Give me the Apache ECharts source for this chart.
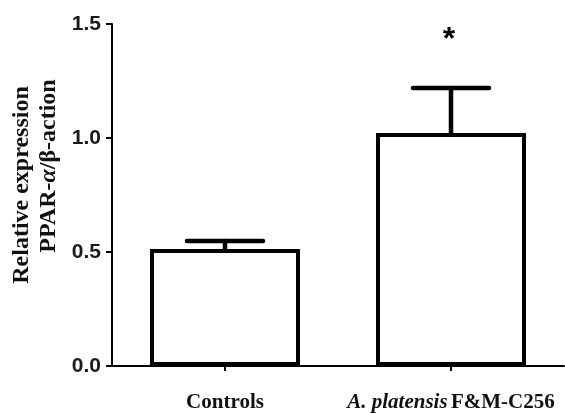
<!DOCTYPE html>
<html>
<head>
<meta charset="utf-8">
<script src="https://cdn.jsdelivr.net/npm/echarts@6/dist/echarts.min.js"></script>
<style>
  html, body { margin: 0; padding: 0; background: #fff; }
  #chart { width: 565px; height: 413px; }
</style>
</head>
<body>
<div id="chart"></div>
<script>
// Groups on the x axis
const groups = ['Controls', 'A. platensis F&M-C256'];
// Mean relative expression and upper end of the error bar
const meanValues = [0.513, 1.022];
const upperValues = [0.548, 1.219];
// Significance marks above each group
const significance = ['', '*'];
// Y axis range and step
const yMin = 0;
const yMax = 1.5;
const yStep = 0.5;

const chart = echarts.init(document.getElementById('chart'), null, { renderer: 'canvas' });

const errorData = groups.map((g, i) => [i, meanValues[i], upperValues[i]]);

const option = {
  animation: false,
  backgroundColor: '#ffffff',
  grid: { left: 112, right: 1, top: 24, bottom: 47 },
  xAxis: {
    type: 'category',
    data: groups,
    axisLine: { show: true, lineStyle: { color: '#000', width: 2 } },
    axisTick: { show: true, alignWithLabel: true, length: 5, lineStyle: { color: '#000', width: 2 } },
    axisLabel: {
      margin: 26,
      formatter: function (v) {
        if (v.indexOf('A. platensis') === 0) {
          return '{it|A. platensis} {b|' + v.slice('A. platensis '.length) + '}';
        }
        return '{b|' + v + '}';
      },
      rich: {
        b: { fontFamily: 'Liberation Serif', fontWeight: 'bold', fontSize: 21, color: '#111' },
        it: { fontFamily: 'Liberation Serif', fontWeight: 'bold', fontStyle: 'italic', fontSize: 21, color: '#111' }
      }
    }
  },
  yAxis: {
    type: 'value',
    min: yMin,
    max: yMax,
    interval: yStep,
    splitLine: { show: false },
    axisLine: { show: true, lineStyle: { color: '#000', width: 2 } },
    axisTick: { show: true, length: 6, lineStyle: { color: '#000', width: 2 } },
    axisLabel: {
      margin: 11,
      fontFamily: 'Liberation Sans',
      fontWeight: 'bold',
      fontSize: 21,
      color: '#1a1a1a',
      formatter: v => v.toFixed(1)
    }
  },
  graphic: [
    {
      type: 'text',
      x: 22, y: 185,
      rotation: Math.PI / 2,
      style: {
        text: 'Relative expression',
        fontFamily: 'Liberation Serif', fontWeight: 'bold', fontSize: 24,
        fill: '#111', align: 'center', verticalAlign: 'middle'
      }
    },
    {
      type: 'text',
      x: 49, y: 166,
      rotation: Math.PI / 2,
      style: {
        rich: {
          n: { fontFamily: 'Liberation Serif', fontWeight: 'bold', fontSize: 24, fill: '#111' },
          g: { fontFamily: 'Liberation Serif', fontWeight: 'bold', fontStyle: 'italic', fontSize: 24, fill: '#111' }
        },
        text: '{n|PPAR-}{g|α}{n|/β-action}',
        align: 'center', verticalAlign: 'middle'
      }
    }
  ],
  series: [
    {
      type: 'bar',
      data: meanValues,
      barWidth: 150,
      itemStyle: { color: '#ffffff', borderColor: '#000', borderWidth: 4 },
      z: 2
    },
    {
      type: 'custom',
      data: errorData,
      z: 3,
      renderItem: function (params, api) {
        const x = api.value(0);
        const top = api.coord([x, api.value(1)]);
        const up = api.coord([x, api.value(2)]);
        const half = 38;
        const style = { stroke: '#000', lineWidth: 4.5, lineCap: 'round' };
        const children = [
          { type: 'line', shape: { x1: top[0], y1: top[1], x2: up[0], y2: up[1] }, style: style },
          { type: 'line', shape: { x1: up[0] - half, y1: up[1], x2: up[0] + half, y2: up[1] }, style: style }
        ];
        const mark = significance[params.dataIndex];
        if (mark) {
          children.push({
            type: 'text',
            x: up[0] - 2,
            y: up[1] - 48,
            style: {
              text: mark, fontFamily: 'Liberation Sans', fontWeight: 'bold', fontSize: 32,
              fill: '#000', align: 'center', verticalAlign: 'middle'
            }
          });
        }
        return { type: 'group', children: children };
      }
    }
  ]
};

chart.setOption(option);
</script>
</body>
</html>
